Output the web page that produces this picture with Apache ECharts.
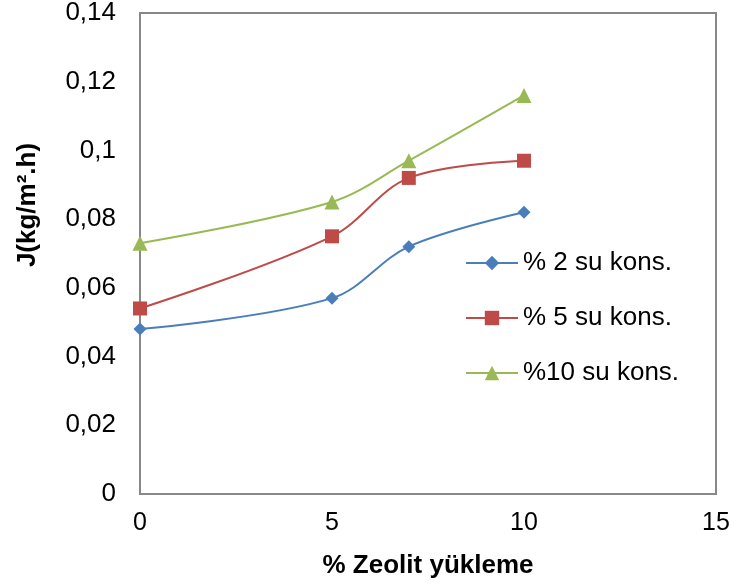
<!DOCTYPE html>
<html>
<head>
<meta charset="utf-8">
<script src="https://cdn.jsdelivr.net/npm/echarts@6/dist/echarts.min.js"></script>
<style>
  html, body { margin: 0; padding: 0; background: #fff; }
  #chart { width: 734px; height: 586px; }
</style>
</head>
<body>
<div id="chart"></div>
<script>
// Zeolite loading (%) on the x axis
const zeolite = [0, 5, 7, 10];
// Flux J (kg/m².h) for each water concentration
const su2 = [0.048, 0.057, 0.072, 0.082];
const su5 = [0.054, 0.075, 0.092, 0.097];
const su10 = [0.073, 0.085, 0.097, 0.116];
const seriesNames = ['% 2 su kons.', '% 5 su kons.', '%10 su kons.'];
const xTicks = [0, 5, 10, 15];
const yTicks = [0, 0.02, 0.04, 0.06, 0.08, 0.1, 0.12, 0.14];
const xTitle = '% Zeolit yükleme';
const yTitle = 'J(kg/m².h)';

const font = 'Liberation Sans, Arial, sans-serif';
const pairs = (ys) => zeolite.map((x, i) => [x, ys[i]]);
const comma = (v) => String(parseFloat(v.toFixed(2))).replace('.', ',');

const chart = echarts.init(document.getElementById('chart'));
chart.setOption({
  animation: false,
  backgroundColor: '#fff',
  grid: {
    left: 140, right: 18, top: 13, bottom: 92,
    show: true, borderColor: '#888', borderWidth: 2, backgroundColor: 'transparent'
  },
  xAxis: {
    type: 'value',
    min: xTicks[0], max: xTicks[xTicks.length - 1], interval: 5,
    name: xTitle,
    nameLocation: 'middle', nameGap: 59,
    nameTextStyle: { fontFamily: font, fontSize: 26, fontWeight: 'bold', color: '#000' },
    axisLine: { show: true, lineStyle: { color: '#888', width: 2 } },
    axisTick: { show: false },
    splitLine: { show: false },
    axisLabel: { fontFamily: font, fontSize: 25, color: '#000', margin: 17 }
  },
  yAxis: {
    type: 'value',
    min: yTicks[0], max: yTicks[yTicks.length - 1], interval: 0.02,
    axisLine: { show: true, lineStyle: { color: '#888', width: 2 } },
    axisTick: { show: false },
    splitLine: { show: false },
    axisLabel: { fontFamily: font, fontSize: 26, color: '#000', margin: 24, formatter: comma }
  },
  graphic: [{
    type: 'text',
    x: 28, y: 205,
    rotation: Math.PI / 2,
    style: {
      text: yTitle,
      font: 'bold 26px ' + font,
      fill: '#000',
      align: 'center',
      verticalAlign: 'middle'
    }
  }],
  legend: {
    orient: 'vertical',
    left: 465, top: 250, padding: 0,
    itemWidth: 52, itemHeight: 18, itemGap: 29,
    textStyle: { fontFamily: font, fontSize: 26, color: '#000' },
    data: seriesNames
  },
  series: [
    {
      name: seriesNames[0], type: 'line', smooth: 0.35, data: pairs(su2),
      symbol: 'diamond', symbolSize: 13,
      lineStyle: { color: '#4A7EBB', width: 2 },
      itemStyle: { color: '#4A7EBB' }
    },
    {
      name: seriesNames[1], type: 'line', smooth: 0.35, data: pairs(su5),
      symbol: 'rect', symbolSize: 14,
      lineStyle: { color: '#BE4B48', width: 2 },
      itemStyle: { color: '#BE4B48' }
    },
    {
      name: seriesNames[2], type: 'line', smooth: 0.35, data: pairs(su10),
      symbol: 'triangle', symbolSize: 15,
      lineStyle: { color: '#98B954', width: 2 },
      itemStyle: { color: '#98B954' }
    }
  ]
});
</script>
</body>
</html>
